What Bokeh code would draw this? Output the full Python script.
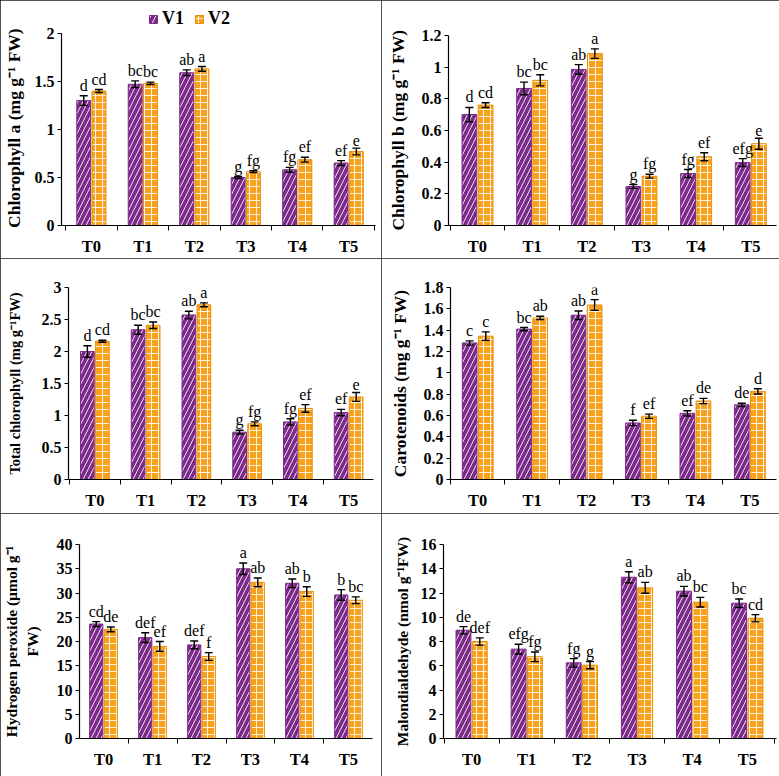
import numpy as np
from bokeh.plotting import figure
from bokeh.layouts import column, row
from bokeh.models import (ColumnDataSource, Range1d, FixedTicker, NumeralTickFormatter,
                          CustomJSTickFormatter, Whisker, TeeHead, Legend, LegendItem, LabelSet)
from bokeh.embed import file_html
from bokeh.resources import INLINE
from bokeh.core.properties import value

# ---------------- data ----------------
treatments = ["T0", "T1", "T2", "T3", "T4", "T5"]
series = ["V1", "V2"]

chla_v1 = [1.30, 1.47, 1.59, 0.50, 0.58, 0.65]
chla_v1_err = [0.05, 0.035, 0.03, 0.01, 0.025, 0.025]
chla_v2 = [1.40, 1.48, 1.63, 0.56, 0.685, 0.77]
chla_v2_err = [0.015, 0.012, 0.025, 0.01, 0.025, 0.035]
chla_v1_let = ["d", "bc", "ab", "g", "fg", "ef"]
chla_v2_let = ["cd", "bc", "a", "fg", "ef", "e"]

chlb_v1 = [0.70, 0.865, 0.985, 0.246, 0.328, 0.397]
chlb_v1_err = [0.045, 0.04, 0.03, 0.012, 0.025, 0.025]
chlb_v2 = [0.76, 0.916, 1.085, 0.311, 0.434, 0.516]
chlb_v2_err = [0.015, 0.035, 0.03, 0.012, 0.025, 0.035]
chlb_v1_let = ["d", "bc", "ab", "g", "fg", "efg"]
chlb_v2_let = ["cd", "bc", "a", "fg", "ef", "e"]

tot_v1 = [2.00, 2.34, 2.57, 0.74, 0.90, 1.045]
tot_v1_err = [0.09, 0.07, 0.06, 0.03, 0.05, 0.05]
tot_v2 = [2.16, 2.41, 2.73, 0.87, 1.11, 1.29]
tot_v2_err = [0.015, 0.05, 0.03, 0.03, 0.06, 0.07]
tot_v1_let = ["d", "bc", "ab", "g", "fg", "ef"]
tot_v2_let = ["cd", "bc", "a", "fg", "ef", "e"]

car_v1 = [1.28, 1.41, 1.54, 0.53, 0.62, 0.70]
car_v1_err = [0.02, 0.015, 0.04, 0.025, 0.025, 0.015]
car_v2 = [1.344, 1.515, 1.636, 0.593, 0.736, 0.826]
car_v2_err = [0.04, 0.015, 0.05, 0.02, 0.025, 0.025]
car_v1_let = ["c", "bc", "ab", "f", "ef", "de"]
car_v2_let = ["c", "ab", "a", "ef", "de", "d"]

h2o2_v1 = [23.6, 20.8, 19.3, 35.0, 32.0, 29.6]
h2o2_v1_err = [0.5, 1.0, 0.8, 1.2, 0.9, 1.1]
h2o2_v2 = [22.5, 19.0, 16.9, 32.2, 30.3, 28.5]
h2o2_v2_err = [0.5, 1.0, 0.8, 0.9, 1.0, 0.7]
h2o2_v1_let = ["cd", "def", "def", "a", "ab", "b"]
h2o2_v2_let = ["de", "ef", "f", "ab", "b", "bc"]

mda_v1 = [8.93, 7.37, 6.24, 13.3, 12.15, 11.16]
mda_v1_err = [0.3, 0.4, 0.35, 0.45, 0.4, 0.35]
mda_v2 = [8.0, 6.74, 6.05, 12.43, 11.24, 9.92]
mda_v2_err = [0.3, 0.4, 0.3, 0.45, 0.4, 0.3]
mda_v1_let = ["de", "efg", "fg", "a", "ab", "bc"]
mda_v2_let = ["def", "fg", "g", "ab", "bc", "cd"]

# ---------------- style ----------------
PURPLE = "#7D2B8B"
ORANGE = "#F8A11C"
SERIF = "Liberation Serif"
BAR_W = 0.27
OFF = 0.148
NBSP = "\u00a0"


def panel(W, H, L, R, T, B, top_pad, xs, xe, ymax, step, ytitle, v1, e1, v2, e2, l1, l2,
          title_size=16, title_standoff=14, legend=False):
    # frame spans top_pad..H-B ; the y axis (bounds) stops at ymax, T px below the top
    axis_h = H - T - B
    frame_h = H - top_pad - B
    y_end = ymax * frame_h / axis_h
    p = figure(width=W, height=H, x_range=Range1d(xs, xe), y_range=Range1d(0, y_end),
               output_backend="svg", toolbar_location=None,
               min_border_left=L, min_border_right=R,
               min_border_top=top_pad, min_border_bottom=B)
    p.outline_line_color = None
    p.xgrid.visible = False
    p.ygrid.visible = False
    p.background_fill_color = "white"
    p.border_fill_color = "white"
    p.styles = {"outline": "1px solid #1a1a1a", "outline-offset": "-1px"}

    idx = np.arange(len(treatments))
    renderers = []
    for vals, errs, lets, off, col, pat, hs, lc in [
        (v1, e1, l1, -OFF, PURPLE, "right_diagonal_line", 10, PURPLE),
        (v2, e2, l2, OFF, ORANGE, "cross", 7, "#E8900C"),
    ]:
        vals = np.array(vals)
        errs = np.array(errs)
        src = ColumnDataSource(dict(x=idx + off, top=vals, upper=vals + errs,
                                    lower=vals - errs, let=lets))
        r = p.vbar(x="x", top="top", width=BAR_W, source=src, fill_color=col,
                   line_color=lc, line_width=1, hatch_pattern=pat, hatch_color="white",
                   hatch_scale=hs, hatch_weight=1.0, hatch_alpha=0.85)
        renderers.append(r)
        wk = Whisker(source=src, base="x", upper="upper", lower="lower", dimension="height",
                     line_color="black", line_width=1.4, level="overlay",
                     upper_head=TeeHead(size=8, line_color="black", line_width=1.4),
                     lower_head=TeeHead(size=8, line_color="black", line_width=1.4))
        p.add_layout(wk)
        lab = LabelSet(x="x", y="upper", text="let", source=src, y_offset=2,
                       text_align="center", text_baseline="bottom",
                       text_font=value(SERIF), text_font_size="16px", text_color="black")
        p.add_layout(lab)

    # x axis
    xa = p.xaxis[0]
    xa.ticker = FixedTicker(ticks=list(range(len(treatments))),
                            minor_ticks=[k - 0.5 for k in range(len(treatments) + 1)])
    xa.formatter = CustomJSTickFormatter(args=dict(cats=treatments),
                                         code="return cats[Math.round(tick)] || ''")
    xa.major_tick_out = 0
    xa.major_tick_in = 0
    xa.minor_tick_out = 5
    xa.minor_tick_in = 0
    xa.minor_tick_line_color = "black"
    xa.axis_line_color = "black"
    xa.axis_line_width = 1.2
    xa.major_label_text_font = SERIF
    xa.major_label_text_font_style = "bold"
    xa.major_label_text_font_size = "16.5px"
    xa.major_label_text_color = "black"
    xa.major_label_standoff = 6

    # y axis
    ya = p.yaxis[0]
    ticks = [round(k * step, 6) for k in range(int(round(ymax / step)) + 1)]
    ya.ticker = FixedTicker(ticks=ticks, minor_ticks=[])
    ya.bounds = (0, ymax)
    ya.formatter = NumeralTickFormatter(format="0.[0]")
    ya.major_tick_out = 4
    ya.major_tick_in = 0
    ya.minor_tick_out = 0
    ya.minor_tick_in = 0
    ya.axis_line_color = "black"
    ya.axis_line_width = 1.2
    ya.major_tick_line_color = "black"
    ya.major_label_text_font = SERIF
    ya.major_label_text_font_style = "bold"
    ya.major_label_text_font_size = "16px"
    ya.major_label_text_color = "black"
    ya.major_label_standoff = 3
    ya.axis_label = ytitle
    ya.axis_label_text_font = SERIF
    ya.axis_label_text_font_style = "bold"
    ya.axis_label_text_font_size = "%.1fpx" % title_size
    ya.axis_label_text_color = "black"
    ya.axis_label_standoff = title_standoff

    if legend:
        items = [LegendItem(label=series[0], renderers=[renderers[0]]),
                 LegendItem(label=series[1], renderers=[renderers[1]])]
        lg = Legend(items=items, orientation="horizontal",
                    location=(87, frame_h - 26),
                    glyph_width=10, glyph_height=10, label_standoff=4, spacing=10,
                    padding=0, margin=0, label_height=18,
                    label_text_font=SERIF, label_text_font_style="bold",
                    label_text_font_size="18px", label_text_color="black",
                    border_line_color=None, background_fill_alpha=0)
        p.add_layout(lg, "center")
    return p


LW, RW = 381, 398
H1, H2, H3 = 258, 255, 263
# panels in one row share the frame top/bottom, so each row uses common paddings

p1 = panel(LW, H1, 60, 6, 33, 32, 4, -0.58, 5.52, 2, 0.5,
           "Chlorophyll a (mg g\u207b\u00b9 FW)" + NBSP * 6,
           chla_v1, chla_v1_err, chla_v2, chla_v2_err, chla_v1_let, chla_v2_let,
           title_size=17.5, title_standoff=8, legend=True)
p2 = panel(RW, H1, 67, 3, 35, 32, 4, -0.53, 5.47, 1.2, 0.2,
           "Chlorophyll b (mg g\u207b\u00b9 FW)" + NBSP * 7,
           chlb_v1, chlb_v1_err, chlb_v2, chlb_v2_err, chlb_v1_let, chlb_v2_let,
           title_size=17.5, title_standoff=11)
p3 = panel(LW, H2, 68, 8, 29, 34, 29, -0.52, 5.49, 3, 0.5, "Total chlorophyll (mg g\u207b\u00b9FW)",
           tot_v1, tot_v1_err, tot_v2, tot_v2_err, tot_v1_let, tot_v2_let,
           title_size=14.5, title_standoff=16)
p4 = panel(RW, H2, 69, 3, 29, 34, 29, -0.5, 5.49, 1.8, 0.2, "Carotenoids (mg g\u207b\u00b9 FW)",
           car_v1, car_v1_err, car_v2, car_v2_err, car_v1_let, car_v2_let,
           title_size=17.5, title_standoff=11)
p5 = panel(LW, H3, 77, 9, 31, 38, 31, -0.49, 5.49, 40, 5, "Hydrogen peroxide (\u00b5mol g\u207b\u00b9\nFW)",
           h2o2_v1, h2o2_v1_err, h2o2_v2, h2o2_v2_err, h2o2_v1_let, h2o2_v2_let,
           title_size=15.5, title_standoff=13)
p6 = panel(RW, H3, 62, 3, 31, 38, 31, -0.51, 5.53, 16, 2, "Malondialdehyde (nmol g\u207b\u00b9FW)",
           mda_v1, mda_v1_err, mda_v2, mda_v2_err, mda_v1_let, mda_v2_let,
           title_size=15.5, title_standoff=7)

layout = column(row(p1, p2, spacing=0), row(p3, p4, spacing=0), row(p5, p6, spacing=0), spacing=0)

open("out.html", "w").write(file_html(layout, INLINE))
